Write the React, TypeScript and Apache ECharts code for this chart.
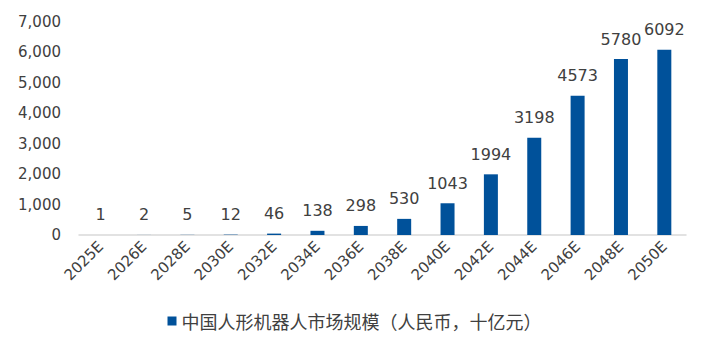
import React, { useEffect, useRef } from "react";
import * as echarts from "echarts";

const categories = ["2025E", "2026E", "2028E", "2030E", "2032E", "2034E", "2036E", "2038E", "2040E", "2042E", "2044E", "2046E", "2048E", "2050E"];
const values = [1, 2, 5, 12, 46, 138, 298, 530, 1043, 1994, 3198, 4573, 5780, 6092];
const seriesName = "中国人形机器人市场规模（人民币，十亿元）";

const FONT = "'DejaVu Sans', 'Noto Sans CJK SC', sans-serif";

export default function App() {
  const ref = useRef<HTMLDivElement>(null);
  useEffect(() => {
    if (!ref.current) return;
    const chart = echarts.init(ref.current, undefined, { renderer: "svg" });
    chart.setOption({
      animation: false,
      textStyle: { fontFamily: FONT },
      grid: { left: 71, right: 15, top: 14, bottom: 109 },
      legend: {
        data: [seriesName],
        bottom: 9,
        left: "center",
        icon: "rect",
        itemWidth: 9,
        itemHeight: 9,
        itemGap: 5,
        textStyle: { fontSize: 18, color: "#404040", fontFamily: "'Noto Sans CJK SC', sans-serif" },
      },
      xAxis: {
        type: "category",
        data: categories,
        axisLine: { lineStyle: { color: "#d9d9d9", width: 1.5 } },
        axisTick: { show: false },
        axisLabel: { rotate: 45, fontSize: 15, color: "#404040", interval: 0, margin: 9 },
      },
      yAxis: {
        type: "value",
        min: 0,
        max: 7000,
        interval: 1000,
        splitLine: { show: false },
        axisLine: { show: false },
        axisTick: { show: false },
        axisLabel: {
          fontSize: 15,
          color: "#404040",
          margin: 18,
          formatter: (v: number) => v.toLocaleString("en-US"),
        },
      },
      series: [
        {
          name: seriesName,
          type: "bar",
          data: values,
          barWidth: 14,
          itemStyle: { color: "#00519A" },
          label: { show: true, position: "top", fontSize: 16, color: "#404040", distance: 12 },
        },
      ],
    });
    return () => chart.dispose();
  }, []);
  return <div ref={ref} style={{ width: 693, height: 336 }} />;
}
